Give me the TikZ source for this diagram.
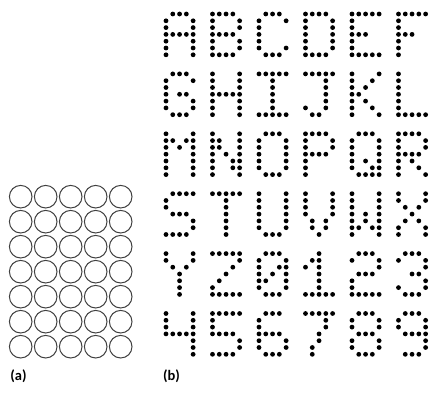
\documentclass[tikz,border=0pt]{standalone}
\usepackage{fontspec}
\setmainfont{Carlito}
\newcommand\dmchar[3]{%
  \foreach \v [count=\r from 0] in {#3} {%
    \foreach \c in {0,...,4} {%
      \pgfmathtruncatemacro\dmbit{mod(floor(\v/pow(2,4-\c)),2)}%
      \ifnum\dmbit=1 \fill[dotstyle] (166+46.5*#1+6.78*\c, 14+59.9*#2+6.8*\r) circle[radius=2.4]; \fi
    }%
  }%
}
\begin{document}
\begin{tikzpicture}[x=1pt,y=-1pt,
  dotstyle/.style={fill=black},
  cellstyle/.style={draw=black!75,line width=1pt},
  labelstyle/.style={font=\fontsize{14.5}{16}\selectfont\bfseries, inner sep=0pt}]
\useasboundingbox (0,0) rectangle (429,396);
% (a) grid of circles
\foreach \i in {0,...,4} {
  \foreach \j in {0,...,6} {
    \draw[cellstyle] (20.7+25*\i, 196.7+25*\j) circle[radius=11.3];
  }
}
\node[labelstyle] (la) at (18.5,376) {(a)};
\node[labelstyle] (lb) at (171.5,376) {(b)};
% (b) dot-matrix characters
\dmchar{0}{0}{14,17,17,31,17,17,17}
\dmchar{1}{0}{30,17,17,30,17,17,30}
\dmchar{2}{0}{14,17,16,16,16,17,14}
\dmchar{3}{0}{30,17,17,17,17,17,30}
\dmchar{4}{0}{31,16,16,28,16,16,31}
\dmchar{5}{0}{31,16,16,28,16,16,16}
\dmchar{0}{1}{14,17,16,22,17,17,14}
\dmchar{1}{1}{17,17,17,31,17,17,17}
\dmchar{2}{1}{31,4,4,4,4,4,31}
\dmchar{3}{1}{31,2,2,2,2,18,12}
\dmchar{4}{1}{17,18,20,24,20,18,17}
\dmchar{5}{1}{16,16,16,16,16,16,31}
\dmchar{0}{2}{17,27,21,17,17,17,17}
\dmchar{1}{2}{17,25,25,21,19,19,17}
\dmchar{2}{2}{14,17,17,17,17,17,14}
\dmchar{3}{2}{30,17,17,30,16,16,16}
\dmchar{4}{2}{14,17,17,17,21,19,15}
\dmchar{5}{2}{30,17,17,30,20,18,17}
\dmchar{0}{3}{15,16,16,14,1,1,30}
\dmchar{1}{3}{31,4,4,4,4,4,4}
\dmchar{2}{3}{17,17,17,17,17,17,14}
\dmchar{3}{3}{17,17,17,17,10,10,4}
\dmchar{4}{3}{17,17,17,21,21,27,17}
\dmchar{5}{3}{17,17,10,4,10,17,17}
\dmchar{0}{4}{17,17,10,4,4,4,4}
\dmchar{1}{4}{31,1,2,4,8,16,31}
\dmchar{2}{4}{14,17,19,21,25,17,14}
\dmchar{3}{4}{4,12,20,4,4,4,31}
\dmchar{4}{4}{14,17,1,14,16,16,31}
\dmchar{5}{4}{14,17,1,6,1,17,14}
\dmchar{0}{5}{17,17,17,31,1,1,1}
\dmchar{1}{5}{31,16,16,30,1,1,30}
\dmchar{2}{5}{14,16,16,30,17,17,14}
\dmchar{3}{5}{31,2,2,4,4,8,8}
\dmchar{4}{5}{14,17,17,14,17,17,14}
\dmchar{5}{5}{14,17,17,15,1,1,14}
\end{tikzpicture}
\end{document}
